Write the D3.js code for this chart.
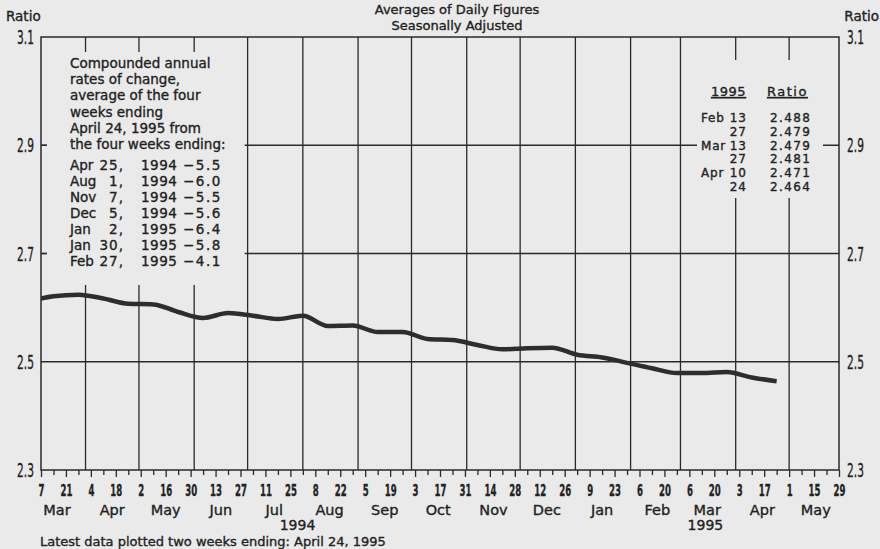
<!DOCTYPE html>
<html>
<head>
<meta charset="utf-8">
<script src="https://cdn.jsdelivr.net/npm/d3@7/dist/d3.min.js"></script>
<style>
  html, body { margin: 0; padding: 0; background: #eaeaea; }
  svg { display: block; }
  text { fill: #222; font-family: "DejaVu Sans", sans-serif; stroke: #222; stroke-width: 0.35px; }
</style>
</head>
<body>
<script>
// biweekly periods ending (Mondays)
var periodEnd = ["1994-02-28","1994-03-14","1994-03-28","1994-04-11","1994-04-25","1994-05-09","1994-05-23",
  "1994-06-06","1994-06-20","1994-07-04","1994-07-18","1994-08-01","1994-08-15","1994-08-29","1994-09-12",
  "1994-09-26","1994-10-10","1994-10-24","1994-11-07","1994-11-21","1994-12-05","1994-12-19","1995-01-02",
  "1995-01-16","1995-01-30","1995-02-13","1995-02-27","1995-03-13","1995-03-27","1995-04-10","1995-04-24"];
var ratio = [2.612,2.621,2.624,2.617,2.607,2.606,2.592,
  2.581,2.590,2.585,2.579,2.585,2.566,2.567,2.555,
  2.555,2.542,2.540,2.531,2.523,2.525,2.526,2.513,
  2.508,2.498,2.488,2.479,2.479,2.481,2.471,2.464];

var yTicks = [2.3, 2.5, 2.7, 2.9, 3.1];
var monthLabels = ["Mar","Apr","May","Jun","Jul","Aug","Sep","Oct","Nov","Dec","Jan","Feb","Mar","Apr","May"];
var yearLabels = ["1994", "1995"];

var growthNote = ["Compounded annual", "rates of change,", "average of the four", "weeks ending",
  "April 24, 1995 from", "the four weeks ending:"];
var growthMonth = ["Apr","Aug","Nov","Dec","Jan","Jan","Feb"];
var growthDay = ["25","1","7","5","2","30","27"];
var growthYear = ["1994","1994","1994","1994","1995","1995","1995"];
var growthRate = ["\u22125.5","\u22126.0","\u22125.5","\u22125.6","\u22126.4","\u22125.8","\u22124.1"];

var recentMonth = ["Feb","","Mar","","Apr",""];
var recentDay = ["13","27","13","27","10","24"];
var recentRatio = ["2.488","2.479","2.479","2.481","2.471","2.464"];

(function(){
  var W = 880, H = 549,
      left = 41, right = 839, top = 37, bottom = 470,
      bg = "#eaeaea", ink = "#2a2a2a";

  var parse = d3.utcParse("%Y-%m-%d");
  var start = parse("1994-03-07"), end = parse("1995-05-29");

  var x = d3.scaleUtc().domain([start, end]).range([left, right]);
  var y = d3.scaleLinear().domain([2.3, 3.1]).range([bottom, top]);

  var svg = d3.select("body").append("svg").attr("width", W).attr("height", H);
  svg.append("rect").attr("width", W).attr("height", H).attr("fill", bg);

  // grid: month starts + ratio levels
  var months = d3.utcMonth.range(d3.utcMonth.ceil(start), end);
  var grid = svg.append("g").attr("stroke", ink).attr("stroke-width", 1.3);
  grid.selectAll(".vg").data(months).enter().append("line")
    .attr("x1", function(d){ return x(d); }).attr("x2", function(d){ return x(d); })
    .attr("y1", top).attr("y2", bottom);
  grid.selectAll(".hg").data([2.5, 2.7, 2.9]).enter().append("line")
    .attr("x1", left).attr("x2", right)
    .attr("y1", function(d){ return y(d); }).attr("y2", function(d){ return y(d); });

  // blank out the boxes holding the notes
  svg.append("rect").attr("x", left + 6).attr("y", top + 15)
    .attr("width", x(parse("1994-07-01")) - left - 9).attr("height", 233).attr("fill", bg);
  svg.append("rect").attr("x", 697).attr("y", top + 23)
    .attr("width", 126).attr("height", 138).attr("fill", bg);

  // frame
  svg.append("rect").attr("x", left).attr("y", top)
    .attr("width", right - left).attr("height", bottom - top)
    .attr("fill", "none").attr("stroke", ink).attr("stroke-width", 1.5);

  // weekly ticks on the bottom
  var weeks = d3.utcMonday.range(start, d3.utcDay.offset(end, 1));
  var xAxis = d3.axisBottom(x).tickValues(weeks).tickSizeOuter(0)
    .tickSize(5).tickPadding(9)
    .tickFormat(function(d, i){ return i % 2 === 0 ? d3.utcFormat("%-d")(d) : ""; });
  var gx = svg.append("g").attr("transform", "translate(0," + bottom + ")").call(xAxis);
  gx.select(".domain").remove();
  gx.selectAll(".tick line").attr("stroke", ink).attr("stroke-width", 1.3)
    .attr("y2", function(d, i){ return i % 2 === 0 ? 7 : 5; });
  gx.selectAll(".tick text")
    .attr("font-family", "DejaVu Sans").attr("font-size", 16.5).attr("font-weight", "bold")
    .attr("fill", "#222").attr("transform", "scale(0.52,1)");

  var monthMid = d3.utcMonth.range(d3.utcMonth.floor(start), end).map(function(d){ return d3.utcDay.offset(d, 15); });
  svg.selectAll(".ml").data(monthLabels).enter().append("text")
    .attr("x", function(d, i){ return x(monthMid[i]); }).attr("y", 515)
    .attr("text-anchor", "middle").attr("font-size", 14.5).text(function(d){ return d; });
  var yearAt = [parse("1994-07-29"), parse("1995-03-15")];
  svg.selectAll(".yl").data(yearLabels).enter().append("text")
    .attr("x", function(d, i){ return x(yearAt[i]); }).attr("y", 530)
    .attr("text-anchor", "middle").attr("font-size", 14).text(function(d){ return d; });

  // ratio labels both sides
  function yLab(side) {
    var g = svg.append("g");
    g.selectAll("g").data(yTicks).enter().append("g")
      .attr("transform", function(d){ return "translate(" + (side ? 847 : 34) + "," + (y(d) + 7) + ")"; })
      .append("text").attr("font-size", 19).attr("transform", "scale(0.56,1)")
      .attr("text-anchor", side ? "start" : "end")
      .text(function(d){ return d3.format(".1f")(d); });
  }
  yLab(0); yLab(1);
  svg.selectAll(".lt").data([2.7, 2.9]).enter().append("line")
    .attr("x1", left).attr("x2", left + 6)
    .attr("y1", function(d){ return y(d); }).attr("y2", function(d){ return y(d); })
    .attr("stroke", ink).attr("stroke-width", 1.3);
  svg.append("text").attr("x", 6).attr("y", 21).attr("font-size", 13.5).text("Ratio");
  svg.append("text").attr("x", 879).attr("y", 21).attr("font-size", 13.5).attr("text-anchor", "end").text("Ratio");

  // titles
  svg.append("text").attr("x", 457).attr("y", 14).attr("text-anchor", "middle").attr("font-size", 13).text("Averages of Daily Figures");
  svg.append("text").attr("x", 457).attr("y", 30).attr("text-anchor", "middle").attr("font-size", 13).text("Seasonally Adjusted");

  // the series
  svg.append("clipPath").attr("id", "plot").append("rect")
    .attr("x", left).attr("y", top).attr("width", right - left).attr("height", bottom - top);
  var line = d3.line()
    .x(function(d, i){ return x(parse(periodEnd[i])); })
    .y(function(d){ return y(d); })
    .curve(d3.curveMonotoneX);
  svg.append("path").datum(ratio).attr("d", line).attr("clip-path", "url(#plot)")
    .attr("fill", "none").attr("stroke", "#2d2d2d").attr("stroke-width", 4.5)
    .attr("stroke-linejoin", "round");

  // left note
  var note = svg.append("g").attr("font-size", 13.5);
  note.selectAll(".n").data(growthNote).enter().append("text")
    .attr("x", 70).attr("y", function(d, i){ return 68 + i * 16.2; }).text(function(d){ return d; });
  var rowY = function(d, i){ return 170 + i * 16; };
  note.selectAll(".gm").data(growthMonth).enter().append("text")
    .attr("x", 70).attr("y", rowY).text(function(d){ return d; });
  note.selectAll(".gd").data(growthDay).enter().append("text")
    .attr("x", 124).attr("y", rowY).attr("text-anchor", "end").attr("letter-spacing", 1).text(function(d){ return d + ","; });
  note.selectAll(".gy").data(growthYear).enter().append("text")
    .attr("x", 141).attr("y", rowY).attr("letter-spacing", 0.5).text(function(d){ return d; });
  note.selectAll(".gr").data(growthRate).enter().append("text")
    .attr("x", 183).attr("y", rowY).attr("letter-spacing", 1.5).text(function(d){ return d; });

  // right table
  var tab = svg.append("g").attr("font-size", 12);
  tab.append("text").attr("x", 711).attr("y", 96).attr("font-size", 13).attr("text-decoration", "underline").attr("letter-spacing", 0.5).text("1995");
  tab.append("text").attr("x", 767).attr("y", 96).attr("font-size", 13).attr("text-decoration", "underline").attr("letter-spacing", 1.5).text("Ratio");
  var tY = function(d, i){ return 122 + i * 13.8; };
  tab.selectAll(".tm").data(recentMonth).enter().append("text")
    .attr("x", 701).attr("y", tY).attr("letter-spacing", 0.8).text(function(d){ return d; });
  tab.selectAll(".td").data(recentDay).enter().append("text")
    .attr("x", 747).attr("y", tY).attr("text-anchor", "end").attr("letter-spacing", 1).text(function(d){ return d; });
  tab.selectAll(".tr").data(recentRatio).enter().append("text")
    .attr("x", 770).attr("y", tY).attr("letter-spacing", 1.4).text(function(d){ return d; });

  svg.append("text").attr("x", 40).attr("y", 545.5).attr("font-size", 13)
    .text("Latest data plotted two weeks ending:  April 24, 1995");
})();
</script>
</body>
</html>
